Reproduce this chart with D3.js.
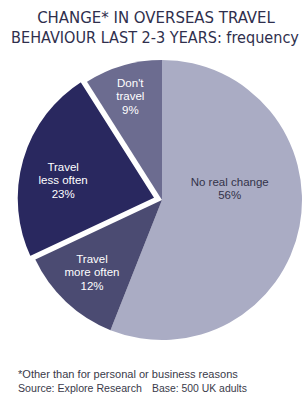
<!DOCTYPE html>
<html>
<head>
<meta charset="utf-8">
<script src="https://cdn.jsdelivr.net/npm/d3@7"></script>
<style>
  body { margin: 0; background: #fff; }
  svg { display: block; font-family: "Liberation Sans", Arial, sans-serif; }
</style>
</head>
<body>
<div id="chart"></div>
<script>
// data
const categories = ["No real change", "Travel more often", "Travel less often", "Don't travel"];
const labelLines = [["No real change"], ["Travel", "more often"], ["Travel", "less often"], ["Don't", "travel"]];
const values = [56, 12, 23, 9];
const colors = ["#aaacc4", "#4b4b72", "#29285f", "#6c6c90"];
const textColors = ["#33334a", "#ffffff", "#ffffff", "#ffffff"];
const exploded = "Travel less often";

const width = 303, height = 398;
const cx = 162, cy = 200, radius = 140;

const svg = d3.select("#chart")
    .append("svg")
    .attr("width", width)
    .attr("height", height);

// text sized so that its natural width matches the reference
function fitText(x, y, anchor, size, target, color, str, family) {
    const t = svg.append("text")
        .attr("x", x).attr("y", y)
        .attr("text-anchor", anchor)
        .style("font-size", size + "px").style("fill", color)
        .text(str);
    if (family) t.style("font-family", family);
    const w = t.node().getComputedTextLength();
    t.style("font-size", (size * target / w) + "px");
    return t;
}

// title
const titleFont = "'DejaVu Sans Condensed', 'Liberation Sans', sans-serif";
fitText(156, 23, "middle", 17, 238, "#2f2f4d", "CHANGE* IN OVERSEAS TRAVEL", titleFont);
fitText(155, 43, "middle", 17, 288, "#2f2f4d", "BEHAVIOUR LAST 2-3 YEARS: frequency", titleFont);

const data = categories.map((c, i) => ({ name: c, value: values[i], lines: labelLines[i], color: colors[i], textColor: textColors[i] }));

const pie = d3.pie().sort(null).value(d => d.value);
const arc = d3.arc().innerRadius(0).outerRadius(radius);
const arcs = pie(data);

const g = svg.append("g").attr("transform", `translate(${cx},${cy})`);

function offset(d) {
    if (d.data.name !== exploded) return [0, 0];
    const a = (d.startAngle + d.endAngle) / 2;
    return [Math.sin(a) * 6, -Math.cos(a) * 6];
}

g.selectAll("path.slice")
    .data(arcs)
    .enter()
    .append("path")
    .attr("class", "slice")
    .attr("d", arc)
    .attr("transform", d => `translate(${offset(d)})`)
    .attr("fill", d => d.data.color)
    .attr("stroke", d => d.data.name === exploded ? "#fff" : "none")
    .attr("stroke-width", 3)
    .attr("stroke-linejoin", "miter");

// keep exploded slice on top
g.selectAll("path.slice").filter(d => d.data.name === exploded).raise();

// label placement: radius along mid angle, plus a small nudge
const labelRadius = [72, 92, 98, 110];
const labelNudge = [[-3, -25], [-7, 5], [1, 9], [-1, 2]];
const lineHeight = 13.5;

arcs.forEach((d, i) => {
    const a = (d.startAngle + d.endAngle) / 2;
    const off = offset(d);
    const x = Math.sin(a) * labelRadius[i] + off[0] + labelNudge[i][0];
    const y = -Math.cos(a) * labelRadius[i] + off[1] + labelNudge[i][1];
    const lines = d.data.lines.concat([d.data.value + "%"]);
    lines.forEach((l, j) => {
        g.append("text")
            .attr("x", x)
            .attr("y", y + (j - (lines.length - 1) / 2) * lineHeight + 4)
            .attr("text-anchor", "middle")
            .style("font-size", "11.5px")
            .style("fill", d.data.textColor)
            .text(l);
    });
});

// footnotes
fitText(18, 378, "start", 11, 220, "#3a3a4a", "*Other than for personal or business reasons");
fitText(18, 392, "start", 11, 124, "#3a3a4a", "Source: Explore Research");
fitText(152, 392, "start", 11, 95, "#3a3a4a", "Base: 500 UK adults");
</script>
</body>
</html>
